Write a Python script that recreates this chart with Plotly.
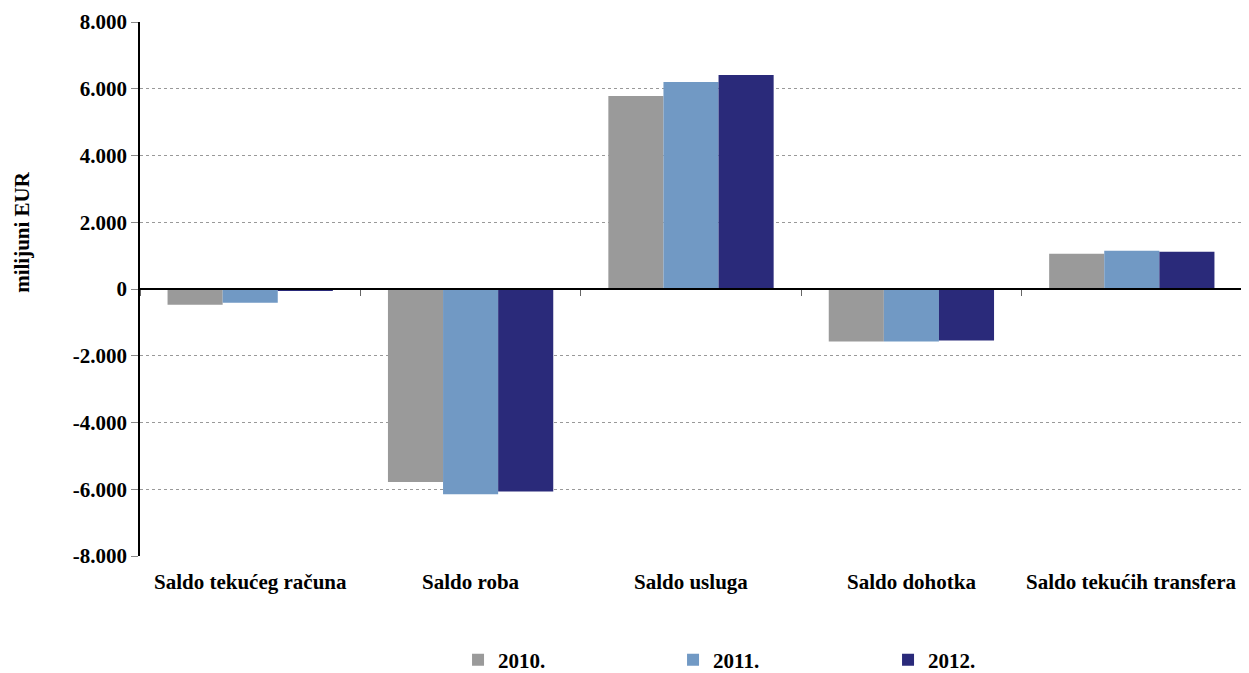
import plotly.graph_objects as go

categories = ["Saldo tekućeg računa", "Saldo roba", "Saldo usluga", "Saldo dohotka", "Saldo tekućih transfera"]
years = ["2010.", "2011.", "2012."]
v2010 = [-470, -5780, 5780, -1570, 1055]
v2011 = [-410, -6150, 6200, -1570, 1145]
v2012 = [-35, -6070, 6410, -1540, 1115]
series = [v2010, v2011, v2012]
colors = ["#9a9a9a", "#7199c4", "#2a2a7a"]

ytick_vals = [-8000, -6000, -4000, -2000, 0, 2000, 4000, 6000, 8000]
ytick_text = ["-8.000", "-6.000", "-4.000", "-2.000", "0", "2.000", "4.000", "6.000", "8.000"]

FONT = "'Liberation Serif', 'Times New Roman', serif"
FS = 21

fig = go.Figure()
for name, vals, col in zip(years, series, colors):
    fig.add_trace(go.Bar(x=categories, y=vals, name="<b>%s</b>" % name,
                         marker=dict(color=col, line=dict(width=0))))

for c in categories:
    fig.add_annotation(x=c, y=-0.0487, xref="x", yref="paper", text="<b>%s</b>" % c,
                       showarrow=False, font=dict(family=FONT, size=FS, color="black"),
                       yanchor="middle")

fig.add_annotation(x=-0.1071, y=0.607, xref="paper", yref="paper", text="<b>milijuni EUR</b>",
                   showarrow=False, textangle=-90, font=dict(family=FONT, size=FS, color="black"),
                   xanchor="center", yanchor="middle", borderpad=0)

fig.update_layout(
    width=1249, height=673,
    margin=dict(l=132, r=15, t=14, b=125, autoexpand=False),
    paper_bgcolor="white", plot_bgcolor="white",
    barmode="group", bargap=0.25, bargroupgap=0,
    font=dict(family=FONT, size=FS, color="black"),
    showlegend=True,
    legend=dict(orientation="h", x=0.2886, xanchor="left", y=-0.195, yanchor="middle",
                entrywidth=170, entrywidthmode="pixels", borderwidth=0,
                font=dict(family=FONT, size=FS, color="black")),
    xaxis=dict(anchor="free", position=0.5, showline=True, linecolor="black", linewidth=2,
               ticks="outside", tickson="boundaries", ticklen=6, tickcolor="#666666",
               showticklabels=False, showgrid=False, zeroline=False, automargin=False),
    yaxis=dict(range=[-8000, 8000], tickvals=ytick_vals,
               ticktext=["<b>%s</b>" % t for t in ytick_text],
               showline=True, linecolor="black", linewidth=1.5,
               ticks="outside", ticklen=7, tickcolor="#888888",
               showgrid=True, gridcolor="#999999", griddash="dot", gridwidth=1,
               zeroline=False, automargin=False,
               tickfont=dict(family=FONT, size=FS, color="black")),
)

fig.write_html("out.html")
